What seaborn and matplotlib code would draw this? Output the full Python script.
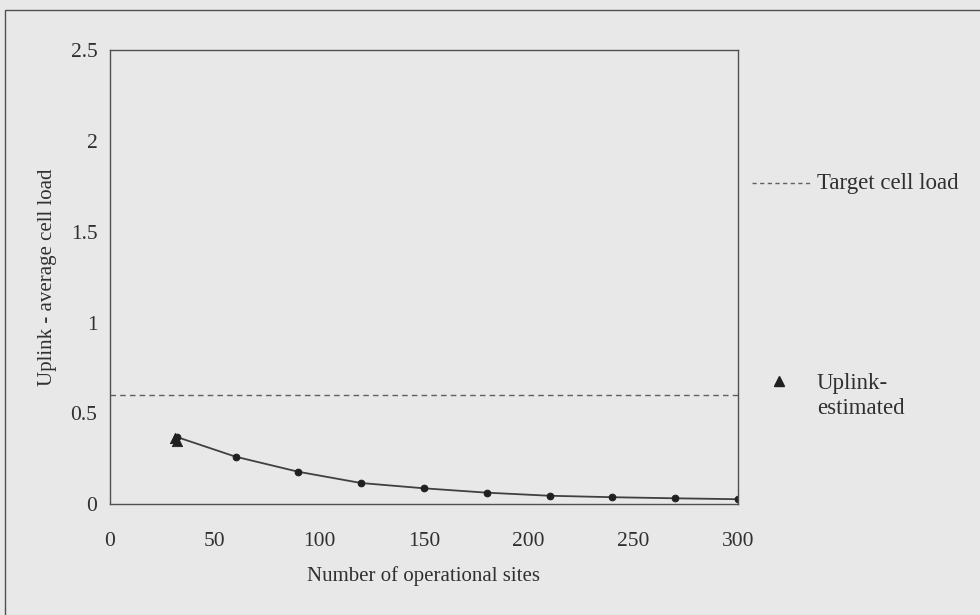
import matplotlib
matplotlib.use("Agg")
import matplotlib.pyplot as plt
import seaborn as sns
import pandas as pd
from matplotlib.lines import Line2D
from matplotlib.patches import Rectangle

# ---- data ----
sites = [32, 60, 90, 120, 150, 180, 210, 240, 270, 300]
avg_load = [0.370, 0.262, 0.179, 0.117, 0.088, 0.064, 0.047, 0.039, 0.033, 0.028]
est_sites = [31, 32]
est_load = [0.365, 0.350]
target_load = 0.6
x_ticks = [0, 50, 100, 150, 200, 250, 300]
y_ticks = [0, 0.5, 1, 1.5, 2, 2.5]
y_tick_labels = ["0", "0.5", "1", "1.5", "2", "2.5"]
x_label = "Number of operational sites"
y_label = "Uplink - average cell load"
legend_labels = ["Target cell load", "Uplink-\nestimated"]

bg = "#e8e8e8"
ink = "#303030"

sns.set_theme(style="white")
plt.rcParams["font.family"] = ["Liberation Serif", "DejaVu Serif"]

fig = plt.figure(figsize=(9.8, 6.15), dpi=100, facecolor=bg)
ax = fig.add_axes([0.1122, 0.180, 0.6408, 0.739])
ax.set_facecolor(bg)

df = pd.DataFrame({"sites": sites, "load": avg_load})
sns.lineplot(data=df, x="sites", y="load", ax=ax, color="#404040", lw=1.3,
             marker="o", markersize=4.8, markeredgecolor="#202020",
             markerfacecolor="#202020")
est = pd.DataFrame({"sites": est_sites, "load": est_load})
sns.scatterplot(data=est, x="sites", y="load", ax=ax, marker="^", s=55,
                color="#202020", edgecolor="#202020", zorder=5)
ax.axhline(target_load, color="#606060", lw=1, ls=(0, (4, 3)))

ax.set_xlim(0, 300)
ax.set_ylim(0, 2.5)
ax.set_xticks(x_ticks)
ax.set_yticks(y_ticks)
ax.set_yticklabels(y_tick_labels)
ax.set_xlabel(x_label, fontsize=15, color=ink, labelpad=11)
ax.set_ylabel(y_label, fontsize=15, color=ink, labelpad=10)
ax.tick_params(axis="both", labelsize=15.5, colors=ink, direction="out",
               length=4, width=0.8)
ax.tick_params(axis="x", pad=16)
ax.tick_params(axis="y", pad=5)
for s in ax.spines.values():
    s.set_color("#505050")
    s.set_linewidth(1.0)

# legend, outside the plot area
fig.add_artist(Line2D([752 / 980, 810 / 980], [1 - 183 / 615, 1 - 183 / 615],
                      color="#606060", lw=1, ls=(0, (3, 2.5))))
fig.text(817 / 980, 1 - 183 / 615, legend_labels[0], fontsize=16.5, color=ink,
         va="center", ha="left")
fig.add_artist(Line2D([779 / 980], [1 - 381 / 615], marker="^", markersize=7,
                      color="#202020", lw=0))
fig.text(817 / 980, 1 - 396 / 615, legend_labels[1], fontsize=16.5, color=ink,
         va="center", ha="left", linespacing=1.3)

# outer frame of the scanned chart
fig.add_artist(Rectangle((5 / 980, -0.05), 1.1, 1 - 10 / 615 + 0.05,
                         transform=fig.transFigure, fill=False,
                         edgecolor="#505050", lw=1.0))

fig.savefig("out.png", dpi=100, facecolor=bg)
